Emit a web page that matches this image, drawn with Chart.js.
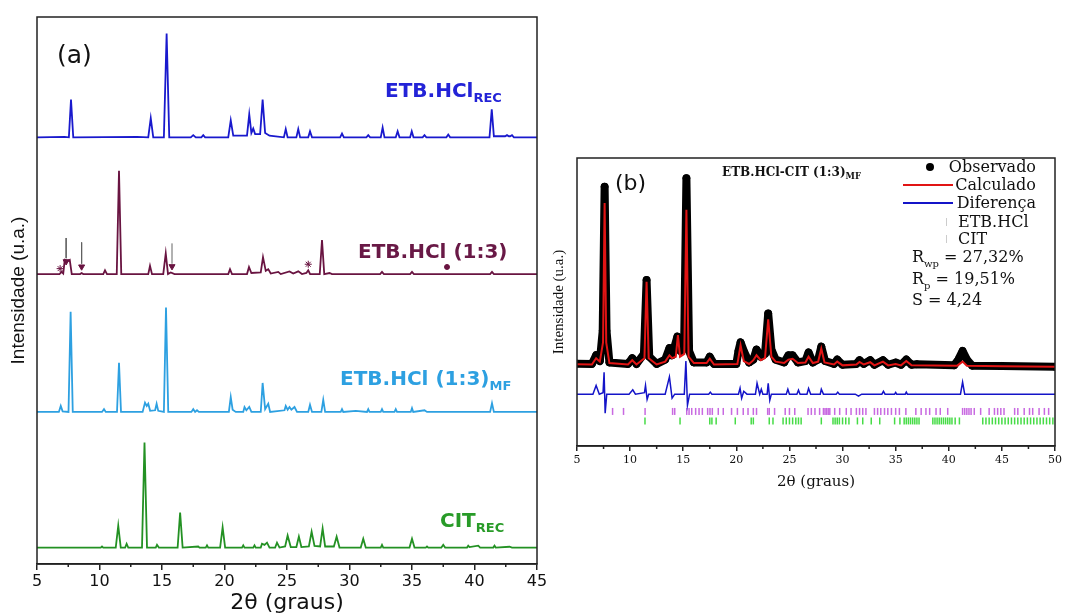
<!DOCTYPE html>
<html lang="pt">
<head>
<meta charset="utf-8">
<title>DRX ETB.HCl - CIT</title>
<script src="https://cdn.jsdelivr.net/npm/chart.js@4.4.1/dist/chart.umd.min.js"></script>
<style>
  html, body { margin: 0; padding: 0; background: #fff; }
  body { position: relative; width: 1065px; height: 614px; overflow: hidden; }
  .panel { position: absolute; }
  .txt { position: absolute; white-space: nowrap; line-height: 1; color: #111; }
  .sans { font-family: 'DejaVu Sans', sans-serif; }
  .serif { font-family: 'DejaVu Serif', serif; }
  .lab { font-weight: bold; font-size: 20px; }
  .lab .sb { font-size: 13px; position: relative; top: 5px; }
  .leg { font-size: 16px; }
  .leg .sb { font-size: 10px; position: relative; top: 5px; }
  .sym { position: absolute; }
</style>
</head>
<body>
<div class="panel" style="left:0;top:0;width:550px;height:614px"><canvas id="chartA" width="550" height="614"></canvas></div>
<div class="panel" style="left:545px;top:140px;width:520px;height:360px"><canvas id="chartB" width="520" height="360"></canvas></div>

<!-- painel (a) -->
<div class="txt sans" style="left:57px;top:42px;font-size:25px">(a)</div>
<div class="txt sans lab" style="left:385px;top:80px;color:rgb(35,35,215)">ETB.HCl<span class="sb">REC</span></div>
<div class="txt sans lab" style="left:358px;top:241px;color:rgb(105,25,70)">ETB.HCl (1:3)</div>
<div class="txt sans lab" style="left:340px;top:368px;color:rgb(45,160,225)">ETB.HCl (1:3)<span class="sb">MF</span></div>
<div class="txt sans lab" style="left:440px;top:510px;color:rgb(40,155,40)">CIT<span class="sb">REC</span></div>

<!-- painel (b) -->
<div class="txt sans" style="left:615px;top:172px;font-size:22px">(b)</div>
<div class="txt serif" style="left:722px;top:166px;font-size:12px;font-weight:bold">ETB.HCl-CIT (1:3)<span style="font-size:8.5px;position:relative;top:3px">MF</span></div>

<div class="sym" style="left:926px;top:163px;width:8px;height:8px;border-radius:50%;background:#000"></div>
<div class="sym" style="left:903px;top:184px;width:50px;height:2px;background:rgb(225,20,20)"></div>
<div class="sym" style="left:903px;top:202px;width:50px;height:2px;background:rgb(20,20,200)"></div>
<div class="sym" style="left:946px;top:218px;width:1px;height:8px;background:#ccc"></div>
<div class="sym" style="left:946px;top:235px;width:1px;height:8px;background:#ccc"></div>

<div class="txt serif leg" style="right:29px;top:159px">Observado</div>
<div class="txt serif leg" style="right:29px;top:177px">Calculado</div>
<div class="txt serif leg" style="right:29px;top:195px">Diferença</div>
<div class="txt serif leg" style="left:958px;top:214px">ETB.HCl</div>
<div class="txt serif leg" style="left:958px;top:231px">CIT</div>
<div class="txt serif leg" style="left:912px;top:249px">R<span class="sb">wp</span> = 27,32%</div>
<div class="txt serif leg" style="left:912px;top:271px">R<span class="sb">p</span> = 19,51%</div>
<div class="txt serif leg" style="left:912px;top:292px">S = 4,24</div>

<script>
// ---------- (a) padrões de DRX, [2θ, intensidade] ----------
const recPattern = [[5,0],[7.2,0.1],[7.55,0],[7.72,6.9],[7.9,0],[13.0,0.1],[13.9,0],[14.1,3.5],[14.3,0],
  [15.15,0],[15.37,19.0],[15.58,0],[17.3,0],[17.5,0.4],[17.7,0],[18.15,0],[18.3,0.4],[18.45,0],
  [20.3,0],[20.5,3.1],[20.7,0.3],[21.8,0.3],[21.98,4.2],[22.15,0.8],[22.3,1.6],[22.45,0.6],
  [22.85,0.6],[23.05,6.9],[23.25,0.8],[23.6,0.3],[24.75,0],[24.9,1.5],[25.05,0],[25.75,0],
  [25.9,1.5],[26.05,0],[26.7,0],[26.84,1.1],[27.0,0],[29.25,0],[29.4,0.7],[29.55,0],[31.35,0],
  [31.5,0.4],[31.65,0],[32.5,0],[32.65,1.8],[32.8,0],[33.7,0],[33.85,1.1],[34.0,0],[34.85,0],
  [34.98,1.1],[35.12,0],[35.85,0],[36.0,0.4],[36.15,0],[37.75,0],[37.9,0.5],[38.05,0],[41.2,0],
  [41.38,5.1],[41.55,0.2],[42.45,0.2],[42.6,0.4],[42.75,0.2],[42.85,0.2],[43.0,0.4],[43.15,0],[45,0]];

const mix13Pattern = [[5,0],[6.8,0],[6.97,0.4],[7.1,0.1],[7.22,2.6],[7.45,2.4],[7.62,2.6],[7.78,0],
  [8.45,0],[8.57,0.2],[8.7,0],[10.3,0],[10.44,0.7],[10.6,0],[11.38,0],[11.56,18.9],[11.74,0],
  [13.9,0],[14.04,1.5],[14.2,0],[15.1,0],[15.3,3.8],[15.48,0],[15.7,0.3],[16.0,0],[20.3,0],
  [20.44,0.9],[20.6,0],[21.8,0],[21.96,1.3],[22.15,0.2],[22.9,0.3],[23.08,3.1],[23.3,0.6],
  [23.5,0.9],[23.7,0.1],[24.3,0.4],[24.5,0],[25.2,0.5],[25.5,0.1],[25.9,0.5],[26.2,0],[26.55,0.2],
  [26.7,0.7],[26.85,0],[27.62,0],[27.8,6.2],[27.98,0],[28.4,0.2],[28.6,0],[32.45,0],[32.6,0.4],
  [32.75,0],[34.85,0],[35.0,0.4],[35.15,0],[41.25,0],[41.4,0.4],[41.55,0],[45,0]];

const mfPattern = [[5,0],[6.75,0],[6.9,1.1],[7.05,0.1],[7.52,0],[7.69,18.3],[7.86,0],[10.2,0],
  [10.36,0.5],[10.5,0],[11.4,0],[11.56,9.0],[11.72,0],[13.45,0],[13.64,1.7],[13.78,1.1],[13.9,1.5],
  [14.05,0.2],[14.45,0.3],[14.57,1.5],[14.7,0.2],[15.15,0],[15.32,19.1],[15.5,0],[17.35,0],
  [17.5,0.5],[17.65,0],[17.8,0.3],[17.95,0],[20.35,0],[20.5,2.7],[20.65,0.4],[20.9,0],[21.5,0],
  [21.6,0.9],[21.75,0.3],[21.98,0.9],[22.15,0],[22.9,0],[23.05,5.3],[23.25,0.5],[23.5,1.5],
  [23.65,0],[24.8,0.3],[24.9,1.1],[25.05,0.4],[25.2,0.9],[25.35,0.4],[25.6,0.9],[25.8,0],
  [26.7,0],[26.84,1.3],[27.0,0],[27.75,0],[27.9,2.2],[28.05,0],[29.3,0],[29.4,0.5],[29.5,0],
  [30.5,0.2],[31.4,0],[31.5,0.5],[31.6,0],[32.5,0],[32.6,0.5],[32.7,0],[33.6,0],[33.7,0.5],
  [33.8,0],[34.9,0],[35.0,0.7],[35.1,0],[36.0,0.3],[36.2,0],[41.25,0],[41.4,1.6],[41.55,0],[45,0]];

const citPattern = [[5,0],[10.1,0],[10.2,0.2],[10.3,0],[11.3,0],[11.5,4.0],[11.7,0],[12.05,0],
  [12.17,0.7],[12.3,0],[13.4,0],[13.6,19.2],[13.8,0],[14.5,0],[14.6,0.5],[14.75,0],[16.25,0],
  [16.45,6.4],[16.65,0],[17.9,0.2],[18.0,0],[18.5,0],[18.6,0.4],[18.7,0],[19.65,0],[19.85,3.7],
  [20.05,0],[21.4,0],[21.5,0.4],[21.6,0],[22.3,0],[22.4,0.4],[22.5,0],[22.9,0],[23.0,0.7],
  [23.2,0.5],[23.4,0.9],[23.6,0],[24.05,0],[24.2,0.9],[24.4,0],[24.85,0.2],[25.05,2.2],[25.3,0.1],
  [25.75,0.1],[25.95,2.0],[26.15,0.1],[26.75,0.2],[26.97,2.9],[27.2,0.3],[27.65,0.2],[27.85,3.5],
  [28.05,0.2],[28.75,0.2],[28.97,2.0],[29.2,0],[30.9,0],[31.1,1.6],[31.3,0],[32.5,0],[32.6,0.5],
  [32.7,0],[34.8,0],[35.0,1.6],[35.2,0],[36.1,0],[36.2,0.2],[36.3,0],[37.35,0],[37.5,0.5],
  [37.65,0],[39.4,0],[39.5,0.35],[39.6,0.1],[40.3,0.35],[40.45,0],[41.5,0],[41.6,0.35],[41.7,0],
  [42.8,0.15],[43,0],[45,0]];

// deslocamento vertical de cada padrão no empilhamento
const stackOffsets = [78, 53, 27.8, 3];

// marcadores sobre ETB.HCl (1:3): [2θ, altura]
const starMarks = [[6.85, 1.0], [26.7, 1.8]];
const triangleMarks = [[7.33, 2.3], [8.57, 1.35], [15.8, 1.4]];
const dotMarks = [[37.8, 1.3]];
const arrowMarks = [[7.33, 6.6, 2.9], [8.57, 5.8, 1.9], [15.8, 5.6, 1.9]];

// ---------- (b) refinamento ----------
const obsPattern = [[5,28.6],[6.4,28.5],[6.8,31.5],[7.15,29.5],[7.42,40],[7.6,90],[7.78,40],[8.05,29],
  [9.8,28.5],[10.2,30.5],[10.6,28.5],[11.3,32],[11.55,57.6],[11.8,31],[12.5,28.5],[13.3,30],
  [13.7,34],[13.95,31.5],[14.45,38],[14.75,33],[15.08,34],[15.3,93],[15.55,33],[16.0,29],
  [17.2,29],[17.5,31],[17.9,28.5],[20.0,28.5],[20.2,33],[20.4,36],[20.7,33],[21.2,29],[21.6,30],
  [21.9,33.5],[22.3,31],[22.7,32],[23.0,46],[23.3,33.5],[23.7,30],[24.5,29],[24.9,31.5],
  [25.3,31.5],[25.8,29],[26.5,29.5],[26.8,32.5],[27.2,29],[27.7,30],[28.0,34.5],[28.35,29.5],
  [29.2,28.5],[29.5,30],[30.0,28.2],[31.3,28.5],[31.6,29.8],[32.0,28.5],[32.6,29.8],[33.0,28.2],
  [33.8,29.8],[34.3,28.2],[35.0,29],[35.5,28.2],[36.0,30],[36.5,28.2],[37.0,28.4],[40.5,28],
  [40.9,30],[41.3,33],[41.7,30],[42.2,27.9],[45,27.8],[50,27.5]];

const calcPattern = [[5,28.4],[6.4,28.3],[6.8,30.5],[7.15,29.3],[7.45,36],[7.6,84.4],[7.75,36],
  [8.05,28.8],[9.8,28.3],[10.2,29.8],[10.6,28.3],[11.35,30.5],[11.55,57],[11.75,30.5],[12.5,28.3],
  [13.3,29.3],[13.7,31.5],[13.95,30.5],[14.3,31],[14.5,38.5],[14.7,31],[15.1,32],[15.3,82],
  [15.5,31],[16.0,28.8],[17.2,28.8],[17.5,30.3],[17.9,28.3],[20.1,28.5],[20.4,35],[20.7,29.5],
  [21.2,28.5],[21.6,29.8],[21.9,31.5],[22.3,29.8],[22.7,30.5],[23.0,44],[23.3,31],[23.7,29.3],
  [24.5,28.8],[24.9,30],[25.3,30.3],[25.8,28.8],[26.5,29],[26.8,31],[27.2,28.8],[27.7,29.3],
  [28.0,33.8],[28.3,29],[29.2,28.3],[29.5,29.3],[30.0,28],[31.3,28.3],[31.6,29.2],[32.0,28.3],
  [32.6,29.1],[33.0,28],[33.8,29.3],[34.3,28],[35.0,28.5],[35.5,28],[36.0,29.5],[36.5,28],
  [40.8,27.9],[41.3,29.3],[41.7,27.9],[45,27.7],[50,27.5]];

const diffPattern = [[5,18],[6.5,18],[6.8,21],[7.1,18],[7.45,18.5],[7.55,25.6],[7.65,11.4],[7.8,18],
  [9.9,18],[10.25,19.5],[10.5,18],[11.35,18.5],[11.45,21],[11.6,16.2],[11.75,18],[13.3,18],
  [13.7,24],[13.95,16.6],[14.2,18],[15.1,18],[15.25,29.5],[15.4,14.2],[15.6,18],[17.4,18],
  [17.55,18.7],[17.7,18],[20.2,18],[20.35,20.1],[20.5,16.6],[20.7,19],[21.0,18],[21.8,18],
  [21.95,21.8],[22.2,18],[22.35,19.7],[22.5,18],[22.9,18],[23.0,21.8],[23.15,15.9],[23.3,18],
  [24.7,18],[24.85,19.7],[25.0,18],[25.7,18],[25.85,19.4],[26.0,18],[26.65,18],[26.8,20],
  [27.0,18],[27.9,18],[28.0,19.7],[28.2,18],[29.4,18],[29.55,18.7],[29.7,18],[31.2,18],
  [31.5,17.3],[31.8,18],[33.7,18],[33.85,19],[34.0,18],[34.9,18],[35.0,18.6],[35.1,18],
  [35.9,18],[36.0,18.7],[36.1,18],[41.1,18],[41.3,22.2],[41.5,18],[50,18]];

// posições de Bragg (2θ)
const etbReflections = [8.35, 9.38, 11.41, 14.0, 14.2, 15.33, 15.55, 15.8, 16.17, 16.49, 16.8, 17.3,
  17.52, 17.74, 18.3, 18.77, 19.55, 20.1, 20.65, 21.1, 21.6, 21.9, 22.95, 23.1, 23.6, 24.6, 25.0,
  25.5, 26.75, 27.06, 27.4, 27.84, 28.2, 28.35, 28.5, 28.65, 28.8, 29.26, 29.73, 30.35, 30.8,
  31.3, 31.6, 31.9, 32.2, 33.0, 33.3, 33.6, 33.95, 34.26, 34.6, 35.0, 35.35, 35.96, 36.9, 37.4,
  37.85, 38.2, 38.8, 39.2, 39.9, 41.3, 41.5, 41.7, 41.9, 42.1, 42.4, 43.0, 43.8, 44.3, 44.6,
  44.9, 45.2, 46.2, 46.5, 47.1, 47.6, 47.9, 48.5, 49.0, 49.4];
const citReflections = [11.4, 14.7, 17.5, 17.7, 18.1, 19.9, 21.4, 21.6, 23.1, 23.45, 24.4, 24.7,
  25.0, 25.3, 25.6, 25.85, 26.1, 28.0, 29.1, 29.3, 29.5, 29.7, 30.0, 30.3, 30.6, 31.4, 31.9,
  32.7, 33.5, 34.9, 35.4, 35.8, 36.0, 36.2, 36.4, 36.6, 36.8, 37.0, 37.2, 38.5, 38.7, 38.9,
  39.1, 39.3, 39.5, 39.7, 39.9, 40.1, 40.3, 40.6, 41.0, 43.2, 43.5, 43.8, 44.1, 44.4, 44.7,
  45.0, 45.3, 45.6, 45.9, 46.2, 46.5, 46.8, 47.1, 47.4, 47.7, 48.0, 48.3, 48.6, 48.9, 49.2,
  49.5, 49.8];
const reflectionRows = [12, 8.7];

// ---------- helpers ----------
function toXY(pattern, offset) {
  return pattern.map(p => ({ x: p[0], y: p[1] + (offset || 0) }));
}

// moldura + ticks menores
const frameBox = {
  id: 'frameBox',
  afterDraw(chart, args, opts) {
    const { ctx, chartArea: a } = chart;
    const xs = chart.scales.x;
    ctx.save();
    ctx.strokeStyle = opts.color;
    ctx.lineWidth = opts.width;
    ctx.strokeRect(a.left, a.top, a.right - a.left, a.bottom - a.top);
    ctx.beginPath();
    for (let v = xs.min + opts.step / 2; v < xs.max; v += opts.step) {
      const px = xs.getPixelForValue(v);
      ctx.moveTo(px, a.bottom);
      ctx.lineTo(px, a.bottom + opts.minorLen);
    }
    ctx.stroke();
    ctx.restore();
  }
};

function xAxis(min, max, cfg) {
  return {
    type: 'linear', min: min, max: max,
    afterFit: s => { s.height = cfg.height; },
    ticks: { stepSize: 5, autoSkip: false, maxRotation: 0, padding: cfg.pad, color: '#111',
             font: { family: cfg.family, size: cfg.tickSize } },
    grid: { drawOnChartArea: false, drawTicks: true, tickLength: cfg.tickLen, color: '#222', lineWidth: 1.5 },
    border: { display: true, color: '#222', width: 1.5 },
    title: { display: true, text: '2θ (graus)', color: '#111',
             font: { family: cfg.family, size: cfg.titleSize, lineHeight: cfg.titleLh },
             padding: { top: 0, bottom: 0 } }
  };
}

function yAxis(width, cfg) {
  return {
    type: 'linear', min: 0, max: 100,
    afterFit: s => { s.width = width; },
    ticks: { display: false }, grid: { display: false }, border: { display: false },
    title: { display: true, text: 'Intensidade (u.a.)', color: '#111',
             font: { family: cfg.family, size: cfg.size }, padding: { top: cfg.pad, bottom: 0 } }
  };
}

// ---------- gráfico (a) ----------
const tracesA = [
  { name: 'ETB.HCl REC', pts: recPattern, color: 'rgb(25,25,205)' },
  { name: 'ETB.HCl (1:3)', pts: mix13Pattern, color: 'rgb(105,20,65)' },
  { name: 'ETB.HCl (1:3) MF', pts: mfPattern, color: 'rgb(45,160,225)' },
  { name: 'CIT REC', pts: citPattern, color: 'rgb(35,145,35)' }
];
const mixOff = stackOffsets[1];
const purple = 'rgb(105,20,65)';

const datasetsA = tracesA.map((t, i) => ({
  label: t.name,
  data: toXY(t.pts, stackOffsets[i]),
  showLine: true, borderColor: t.color, borderWidth: 1.8, pointRadius: 0, tension: 0
}));
arrowMarks.forEach((a, i) => {
  datasetsA.push({
    label: 'seta ' + i,
    data: [{ x: a[0], y: a[1] + mixOff }, { x: a[0], y: a[2] + mixOff }],
    showLine: true, borderColor: i === 2 ? 'rgba(150,150,150,0.7)' : 'rgba(95,95,95,0.9)',
    borderWidth: 1, pointRadius: 0
  });
});
datasetsA.push({ label: 'estrela', data: toXY(starMarks, mixOff), pointStyle: 'star',
  pointRadius: 3.5, borderColor: purple, borderWidth: 1, showLine: false });
datasetsA.push({ label: 'triângulo', data: toXY(triangleMarks, mixOff), pointStyle: 'triangle',
  rotation: 180, pointRadius: 3.5, backgroundColor: purple, borderColor: purple, borderWidth: 1,
  showLine: false });
datasetsA.push({ label: 'ponto', data: toXY(dotMarks, mixOff), pointStyle: 'circle',
  pointRadius: 2.5, backgroundColor: purple, borderColor: purple, borderWidth: 1, showLine: false });

new Chart(document.getElementById('chartA'), {
  type: 'scatter',
  data: { datasets: datasetsA },
  options: {
    responsive: false, animation: false,
    layout: { padding: { top: 17, right: 13, left: 0, bottom: 0 } },
    plugins: {
      legend: { display: false }, tooltip: { enabled: false },
      frameBox: { color: '#222', width: 1.5, step: 5, minorLen: 3 }
    },
    scales: {
      x: xAxis(5, 45, { height: 50, pad: 2, family: "'DejaVu Sans', sans-serif", tickSize: 16,
                        tickLen: 6, titleSize: 22, titleLh: 1 }),
      y: yAxis(37, { family: "'Liberation Sans', Arial, sans-serif", size: 19, pad: 7 })
    }
  },
  plugins: [frameBox]
});

// ---------- gráfico (b) ----------
const datasetsB = [
  { label: 'Calculado', data: toXY(calcPattern), showLine: true, borderColor: 'rgb(225,20,20)',
    borderWidth: 2, pointRadius: 0, order: 0 },
  { label: 'Diferença', data: toXY(diffPattern), showLine: true, borderColor: 'rgb(20,20,200)',
    borderWidth: 1.5, pointRadius: 0, order: 1 },
  { label: 'Observado', data: toXY(obsPattern), showLine: true, borderColor: '#000', borderWidth: 8,
    borderJoinStyle: 'round', borderCapStyle: 'round',
    pointRadius: 3.5, pointBorderWidth: 1, pointBackgroundColor: '#000', pointBorderColor: '#000',
    order: 2 },
  { label: 'ETB.HCl', data: etbReflections.map(v => ({ x: v, y: reflectionRows[0] })),
    pointStyle: 'line', rotation: 90, pointRadius: 3.5, borderColor: 'rgb(200,105,225)',
    borderWidth: 1.5, showLine: false, order: 3 },
  { label: 'CIT', data: citReflections.map(v => ({ x: v, y: reflectionRows[1] })),
    pointStyle: 'line', rotation: 90, pointRadius: 3.5, borderColor: 'rgb(70,220,70)',
    borderWidth: 1.5, showLine: false, order: 4 }
];

new Chart(document.getElementById('chartB'), {
  type: 'scatter',
  data: { datasets: datasetsB },
  options: {
    responsive: false, animation: false,
    layout: { padding: { top: 18, right: 8, left: 0, bottom: 9 } },
    plugins: {
      legend: { display: false }, tooltip: { enabled: false },
      frameBox: { color: '#222', width: 1.5, step: 5, minorLen: 3 }
    },
    scales: {
      x: xAxis(5, 50, { height: 45, pad: 3, family: "'DejaVu Serif', serif", tickSize: 11,
                        tickLen: 5, titleSize: 15, titleLh: 1.2 }),
      y: yAxis(32, { family: "'Liberation Serif', 'Times New Roman', serif", size: 15, pad: 5 })
    }
  },
  plugins: [frameBox]
});
</script>
</body>
</html>
